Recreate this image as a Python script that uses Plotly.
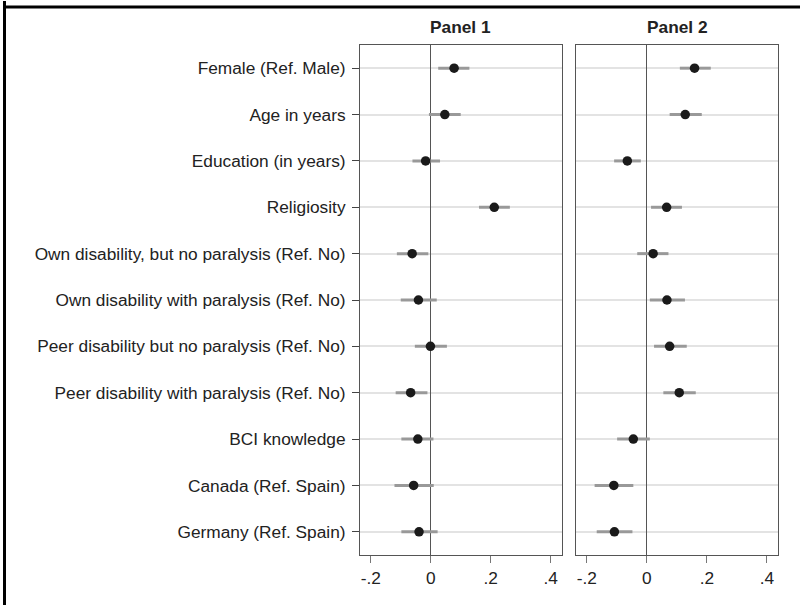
import plotly.graph_objects as go

categories = [
    "Female (Ref. Male)",
    "Age in years",
    "Education (in years)",
    "Religiosity",
    "Own disability, but no paralysis (Ref. No)",
    "Own disability with paralysis (Ref. No)",
    "Peer disability but no paralysis (Ref. No)",
    "Peer disability with paralysis (Ref. No)",
    "BCI knowledge",
    "Canada (Ref. Spain)",
    "Germany (Ref. Spain)",
]

p1_est = [0.078, 0.047, -0.017, 0.212, -0.062, -0.041, -0.001, -0.067, -0.043, -0.057, -0.039]
p1_lo = [0.025, -0.006, -0.061, 0.161, -0.113, -0.100, -0.053, -0.117, -0.098, -0.121, -0.098]
p1_hi = [0.129, 0.100, 0.031, 0.264, -0.008, 0.020, 0.054, -0.011, 0.009, 0.010, 0.023]

p2_est = [0.159, 0.128, -0.065, 0.066, 0.021, 0.067, 0.076, 0.108, -0.045, -0.110, -0.108]
p2_lo = [0.110, 0.076, -0.109, 0.014, -0.032, 0.010, 0.024, 0.055, -0.099, -0.174, -0.167]
p2_hi = [0.213, 0.183, -0.020, 0.117, 0.072, 0.127, 0.133, 0.163, 0.010, -0.045, -0.048]

tick_vals = [-0.2, 0, 0.2, 0.4]
tick_text = ["-.2", "0", ".2", ".4"]
panel_titles = ["Panel 1", "Panel 2"]

FONT = "Liberation Sans, Arial, sans-serif"
FS = 17.3
W, H = 800, 605
ML, MR, MT, MB = 360, 22, 45, 50
plot_w = W - ML - MR
plot_h = H - MT - MB

fig = go.Figure()

panels = [(p1_est, p1_lo, p1_hi, "x", "y"), (p2_est, p2_lo, p2_hi, "x2", "y2")]
for est, lo, hi, xa, ya in panels:
    fig.add_trace(go.Scatter(
        x=est, y=categories, xaxis=xa, yaxis=ya, mode="markers",
        marker=dict(color="#1a1a1a", size=9.5),
        error_x=dict(type="data", symmetric=False,
                     array=[h - e for h, e in zip(hi, est)],
                     arrayminus=[e - l for e, l in zip(est, lo)],
                     color="#999999", thickness=3, width=0),
        showlegend=False, hoverinfo="skip",
    ))

d1 = [0, (561.7 - ML) / plot_w]
d2 = [(576 - ML) / plot_w, 1]

xcommon = dict(range=[-0.236, 0.437], tickvals=tick_vals, ticktext=tick_text,
               showgrid=False, zeroline=True, zerolinecolor="#555555", zerolinewidth=1,
               showline=True, linecolor="#555555", linewidth=1, mirror=True,
               ticks="outside", ticklen=7, tickcolor="#777777",
               tickfont=dict(family=FONT, size=FS, color="#222222"))
ycommon = dict(categoryorder="array", categoryarray=categories,
               range=[10.5, -0.5], showgrid=True, gridcolor="#e3e3e3", gridwidth=1.5,
               showline=True, linecolor="#555555", linewidth=1, mirror=True,
               zeroline=False)

fig.update_layout(
    width=W, height=H,
    margin=dict(l=ML, r=MR, t=MT, b=MB),
    paper_bgcolor="white", plot_bgcolor="white",
    xaxis=dict(domain=d1, **xcommon),
    xaxis2=dict(domain=d2, anchor="y2", **xcommon),
    yaxis=dict(anchor="x", ticks="outside", ticklen=7, tickcolor="#444444",
               tickfont=dict(family=FONT, size=FS, color="#222222"),
               ticklabelstandoff=3, **ycommon),
    yaxis2=dict(anchor="x2", showticklabels=False, ticks="", **ycommon),
)

for title, dom in zip(panel_titles, [d1, d2]):
    fig.add_annotation(text="<b>" + title + "</b>", xref="paper", yref="paper",
                       x=(dom[0] + dom[1]) / 2, y=1 + (MT - 27) / plot_h,
                       showarrow=False, xanchor="center", yanchor="middle",
                       font=dict(family=FONT, size=FS, color="#222222"))

# outer frame: top and left edges
TOP_Y = 7
fig.add_shape(type="line", xref="paper", yref="paper", layer="above",
              x0=(3 - ML) / plot_w, x1=(W - ML) / plot_w,
              y0=1 + (MT - TOP_Y) / plot_h, y1=1 + (MT - TOP_Y) / plot_h,
              line=dict(color="black", width=3))
fig.add_shape(type="line", xref="paper", yref="paper", layer="above",
              x0=(4.5 - ML) / plot_w, x1=(4.5 - ML) / plot_w,
              y0=1 + (MT - 1) / plot_h, y1=-MB / plot_h,
              line=dict(color="black", width=3))

fig.write_html("out.html", config={"displayModeBar": False},
               post_script="document.body.style.margin='0';document.body.style.overflow='hidden';")
